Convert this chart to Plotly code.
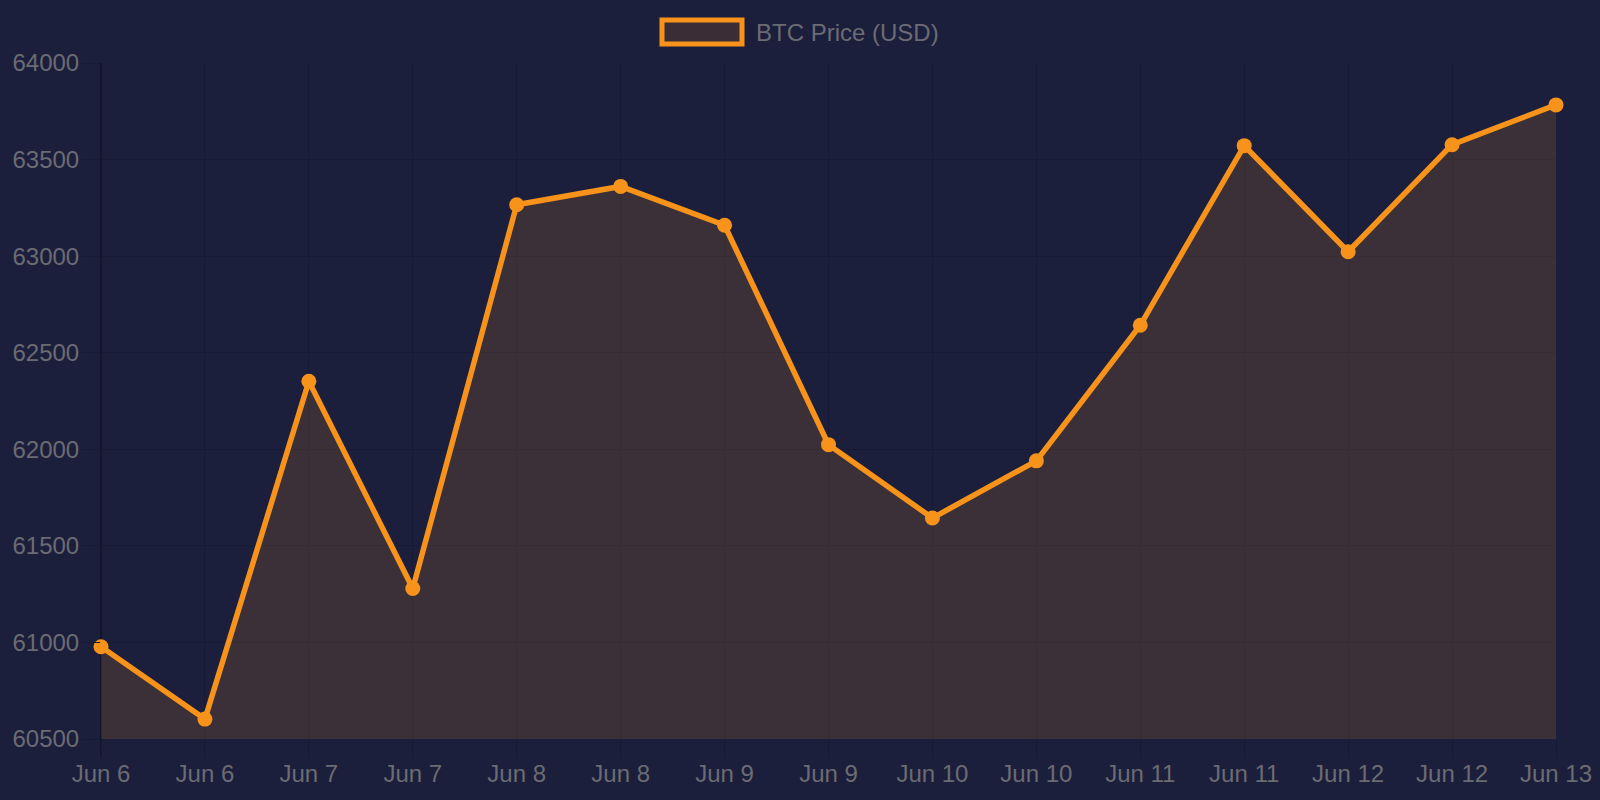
import plotly.graph_objects as go

labels = ["Jun 6", "Jun 6", "Jun 7", "Jun 7", "Jun 8", "Jun 8", "Jun 9", "Jun 9",
          "Jun 10", "Jun 10", "Jun 11", "Jun 11", "Jun 12", "Jun 12", "Jun 13"]
prices = [60978, 60603, 62352, 61279, 63266, 63361, 63160, 62024,
          61644, 61940, 62642, 63572, 63023, 63577, 63783]
y_ticks = [60500, 61000, 61500, 62000, 62500, 63000, 63500, 64000]
series_name = "BTC Price (USD)"

BG = "#1b1f3c"
ORANGE = "#f7931a"
FILL = "rgba(247,147,26,0.15)"
GRID = "#161a33"
TXT = "#6b6b73"

L, R, T, B = 101, 44, 63, 61
PW, PH = 1600 - L - R, 800 - T - B

x = list(range(len(labels)))

fig = go.Figure()
fig.add_trace(go.Scatter(
    x=x, y=prices, mode="lines+markers", name=series_name,
    line=dict(color=ORANGE, width=5.5),
    marker=dict(color=ORANGE, size=15),
    fill="tozeroy", fillcolor=FILL, showlegend=False, cliponaxis=False,
))

fig.update_layout(
    width=1600, height=800,
    paper_bgcolor=BG, plot_bgcolor=BG,
    margin=dict(l=L, r=R, t=T, b=B),
    font=dict(family="Liberation Sans, Arial, sans-serif", size=24, color=TXT),
    xaxis=dict(
        tickmode="array", tickvals=x, ticktext=labels,
        range=[0, len(labels) - 1],
        showgrid=True, gridcolor=GRID, gridwidth=1,
        ticks="outside", ticklen=18, tickcolor=GRID, ticklabelstandoff=-5,
        zeroline=False, showline=False, automargin=False,
    ),
    yaxis=dict(
        tickmode="array", tickvals=y_ticks, ticktext=[str(v) for v in y_ticks],
        range=[60500, 64000],
        showgrid=True, gridcolor=GRID, gridwidth=1,
        ticks="outside", ticklen=18, tickcolor=GRID, ticklabelstandoff=-2,
        zeroline=False, showline=False, automargin=False,
    ),
    shapes=[
        dict(type="line", xref="paper", yref="paper", x0=0, x1=0, y0=-18 / PH, y1=1,
             line=dict(color="#12152c", width=2), layer="below"),
        dict(type="rect", xref="paper", yref="paper",
             x0=(662 - L) / PW, x1=(742 - L) / PW,
             y0=(800 - B - 44) / PH, y1=(800 - B - 20) / PH,
             line=dict(color=ORANGE, width=5), fillcolor="#3b2d36"),
    ],
    annotations=[dict(
        xref="paper", yref="paper", x=(754 - L) / PW, y=(800 - B - 32) / PH,
        xanchor="left", yanchor="middle", text=series_name, showarrow=False,
        font=dict(size=24, color=TXT),
    )],
)

fig.write_html("out.html")
